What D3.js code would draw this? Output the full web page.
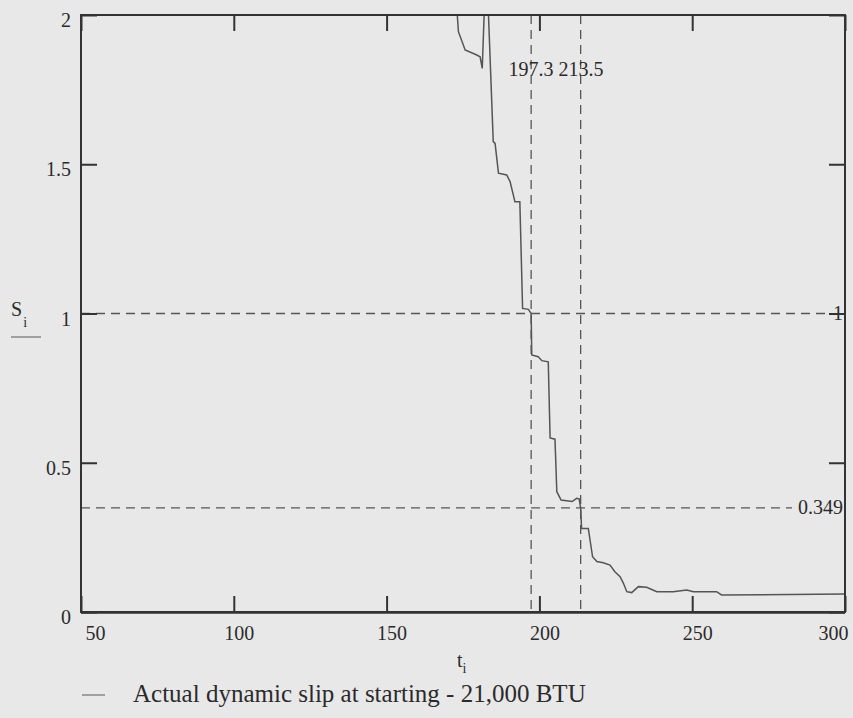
<!DOCTYPE html>
<html>
<head>
<meta charset="utf-8">
<script src="https://cdn.jsdelivr.net/npm/d3@7/dist/d3.min.js"></script>
<style>
  html, body { margin: 0; padding: 0; background: #e8e8e8; }
  svg { display: block; }
  text { font-family: "Liberation Serif", "Times New Roman", serif; fill: #2b2b2b; }
</style>
</head>
<body>
<svg id="chart" width="853" height="718"></svg>
<script>
// Slip trace samples: time t_i and slip S_i
const tValues = [172.8, 173.5, 175.7, 179.5, 180.6, 181.3, 182.6, 184.9, 185.5, 186.6,
  189.3, 190.4, 192.0, 193.6, 194.5, 196.4, 197.3, 197.5, 199.6, 200.8,
  202.9, 203.5, 205.1, 205.7, 207.1, 210.7, 212.2, 213.0, 213.5, 213.8,
  216.0, 217.4, 218.8, 220.9, 223.1, 224.7, 226.4, 227.5, 228.6, 230.2,
  232.4, 235.1, 238.4, 243.8, 248.2, 250.4, 258.0, 259.6, 300.0];
const sValues = [2.05, 1.944, 1.883, 1.866, 1.860, 1.821, 2.2, 1.576, 1.570, 1.470,
  1.464, 1.442, 1.374, 1.374, 1.017, 1.014, 1.0, 0.861, 0.855, 0.842,
  0.838, 0.583, 0.579, 0.403, 0.375, 0.370, 0.381, 0.379, 0.349, 0.280,
  0.280, 0.185, 0.169, 0.165, 0.157, 0.135, 0.118, 0.096, 0.068, 0.065,
  0.085, 0.083, 0.068, 0.068, 0.074, 0.068, 0.068, 0.057, 0.060];

// Axis ticks
const xTicks = [50, 100, 150, 200, 250, 300];
const yTicks = [0, 0.5, 1, 1.5, 2];

// Crosshair markers
const tMarks = [197.3, 213.5];
const sMarks = [1, 0.349];

const legendLabel = "Actual dynamic slip at starting - 21,000 BTU";

(function draw() {
  const svg = d3.select("#chart");
  const W = 853, H = 718;
  const pL = 81, pR = 845, pT = 15, pB = 612;
  const ink = "#333";
  const bg = "#e8e8e8";

  svg.append("rect").attr("width", W).attr("height", H).attr("fill", bg);

  const x = d3.scaleLinear().domain([50, 300]).range([pL, pR]);
  const y = d3.scaleLinear().domain([0, 2]).range([pB, pT]);

  svg.append("defs").append("clipPath").attr("id", "plotclip")
    .append("rect").attr("x", pL).attr("y", pT)
    .attr("width", pR - pL).attr("height", pB - pT);

  // Marker lines
  const marks = svg.append("g").attr("stroke", "#555").attr("stroke-width", 1.3)
    .attr("stroke-dasharray", "9,6").attr("fill", "none");
  marks.selectAll("line.v").data(tMarks).join("line").attr("class", "v")
    .attr("x1", d => x(d)).attr("x2", d => x(d))
    .attr("y1", pT).attr("y2", pB);
  marks.selectAll("line.h").data(sMarks).join("line").attr("class", "h")
    .attr("x1", pL).attr("x2", pR)
    .attr("y1", d => y(d)).attr("y2", d => y(d));

  // Data trace
  const pts = tValues.map((t, i) => [t, sValues[i]]);
  svg.append("path")
    .datum(pts)
    .attr("clip-path", "url(#plotclip)")
    .attr("fill", "none")
    .attr("stroke", "#555")
    .attr("stroke-width", 1.5)
    .attr("d", d3.line().x(d => x(d[0])).y(d => y(d[1])));

  // Marker value labels
  svg.append("text")
    .attr("x", (x(tMarks[0]) + x(tMarks[1])) / 2)
    .attr("y", 76)
    .attr("text-anchor", "middle")
    .attr("font-size", 20)
    .text(tMarks.map(d => d3.format(".1f")(d)).join(" "));

  svg.append("g").selectAll("g").data(sMarks).join("g").each(function (d) {
    const g = d3.select(this);
    const txt = g.append("text")
      .attr("x", pR - 2)
      .attr("y", y(d) + 6.5)
      .attr("text-anchor", "end")
      .attr("font-size", 20)
      .text(String(d));
    const bb = txt.node().getBBox();
    g.insert("rect", "text")
      .attr("x", bb.x - 6).attr("y", y(d) - 4)
      .attr("width", pR - bb.x + 6).attr("height", 8)
      .attr("fill", bg);
  });

  // Axes: ticks point into the plot on every side
  const tick = 16;
  const gB = svg.append("g").attr("transform", `translate(0,${pB})`)
    .call(d3.axisBottom(x).tickValues(xTicks).tickSizeInner(-tick).tickSizeOuter(0).tickPadding(17));
  const gT = svg.append("g").attr("transform", `translate(0,${pT})`)
    .call(d3.axisTop(x).tickValues(xTicks).tickSizeInner(-tick).tickSizeOuter(0).tickFormat(""));
  const gL = svg.append("g").attr("transform", `translate(${pL},0)`)
    .call(d3.axisLeft(y).tickValues(yTicks).tickSizeInner(-tick).tickSizeOuter(0).tickPadding(10)
      .tickFormat(d3.format("")));
  const gR = svg.append("g").attr("transform", `translate(${pR},0)`)
    .call(d3.axisRight(y).tickValues(yTicks).tickSizeInner(-tick).tickSizeOuter(0).tickFormat(""));

  [gB, gT, gL, gR].forEach(g => {
    g.select(".domain").remove();
    g.selectAll(".tick line").attr("stroke", ink).attr("stroke-width", 2);
    g.selectAll("text").attr("font-size", 20).attr("fill", "#2b2b2b")
      .style("font-family", '"Liberation Serif", "Times New Roman", serif');
  });

  gB.selectAll(".tick text")
    .attr("dy", null).attr("y", 28)
    .attr("x", (d, i) => i === 0 ? 4 : (i === xTicks.length - 1 ? 3 : 5))
    .attr("text-anchor", (d, i) => i === 0 ? "start" : (i === xTicks.length - 1 ? "end" : "middle"));
  gL.selectAll(".tick text").attr("dy", null).attr("y", 11.5).attr("x", -10);

  // Plot frame
  svg.append("rect")
    .attr("x", pL).attr("y", pT)
    .attr("width", pR - pL).attr("height", pB - pT)
    .attr("fill", "none").attr("stroke", ink).attr("stroke-width", 2);
  svg.append("line").attr("x1", pL).attr("x2", pR).attr("y1", pB + 0.5).attr("y2", pB + 0.5)
    .attr("stroke", ink).attr("stroke-width", 2.5);

  // Axis titles with subscripts
  const yT = svg.append("text").attr("x", 11).attr("y", 316).attr("font-size", 20);
  yT.append("tspan").text("S");
  yT.append("tspan").attr("font-size", 14).attr("dx", 1).attr("dy", 11).text("i");
  svg.append("line").attr("x1", 11).attr("x2", 41).attr("y1", 337).attr("y2", 337)
    .attr("stroke", "#888").attr("stroke-width", 1.5);

  const xT = svg.append("text").attr("x", 457).attr("y", 667).attr("font-size", 20);
  xT.append("tspan").text("t");
  xT.append("tspan").attr("font-size", 14).attr("dx", 0).attr("dy", 6).text("i");

  // Legend
  svg.append("line").attr("x1", 82).attr("x2", 105).attr("y1", 695).attr("y2", 695)
    .attr("stroke", "#888").attr("stroke-width", 1.5);
  svg.append("text").attr("x", 133).attr("y", 702).attr("font-size", 25).text(legendLabel);
})();
</script>
</body>
</html>
